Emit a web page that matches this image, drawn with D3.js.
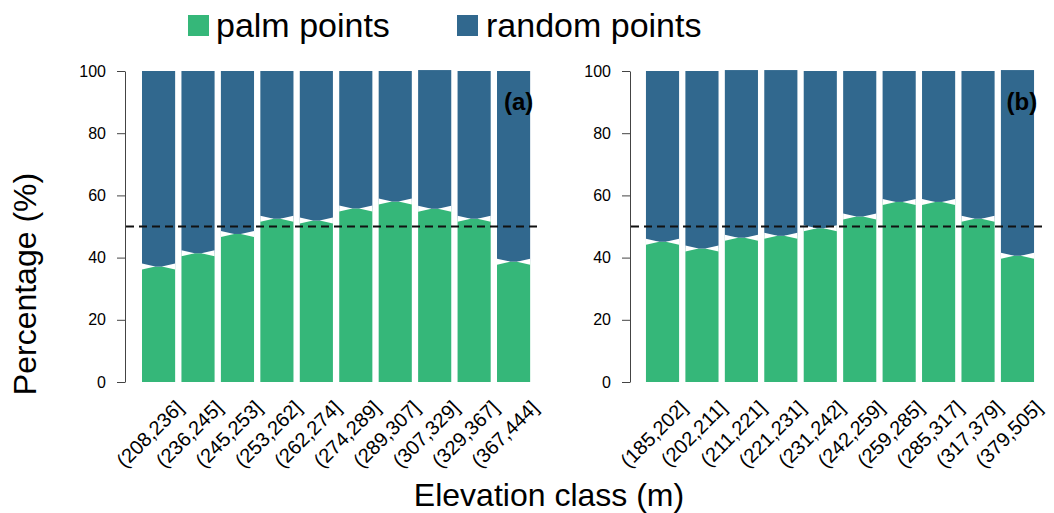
<!DOCTYPE html>
<html><head><meta charset="utf-8">
<script src="https://cdn.jsdelivr.net/npm/d3@7/dist/d3.min.js"></script>
<style>body{margin:0;background:#fff;} text{font-family:"Liberation Sans",Arial,sans-serif;}</style>
</head><body>
<svg id="c" width="1054" height="513"></svg>
<script>
// ---- data ----
const classesA = ["(208,236]","(236,245]","(245,253]","(253,262]","(262,274]","(274,289]","(289,307]","(307,329]","(329,367]","(367,444]"];
const palmA   = [37.1, 41.4, 47.6, 52.5, 51.9, 55.8, 58.0, 55.7, 52.5, 38.7];
const randomA = [62.9, 58.6, 52.4, 47.5, 48.1, 44.2, 42.0, 44.6, 47.5, 61.3];
const classesB = ["(185,202]","(202,211]","(211,221]","(221,231]","(231,242]","(242,259]","(259,285]","(285,317]","(317,379]","(379,505]"];
const palmB   = [45.1, 42.9, 46.4, 47.0, 49.4, 53.2, 57.9, 57.9, 52.5, 40.6];
const randomB = [54.9, 57.1, 53.9, 53.3, 50.6, 46.8, 42.1, 42.1, 47.5, 59.7];
const yTicks = [0, 20, 40, 60, 80, 100];
const seriesNames = ["palm points", "random points"];
const colors = ["#35b779", "#31688e"];
const refLine = 50;

const svg = d3.select("#c");
const y = d3.scaleLinear().domain([0, 100]).range([382, 71]);

function panel(classes, palm, rnd, axisX, r0, r1, tag) {
  const x = d3.scaleBand().domain(classes).range([r0, r1]).paddingInner(0.16).paddingOuter(0.08);
  const g = svg.append("g");
  const bw = x.bandwidth();
  classes.forEach((c, i) => {
    const x0 = x(c);
    g.append("rect").attr("x", x0).attr("width", bw)
      .attr("y", y(palm[i])).attr("height", y(0) - y(palm[i])).attr("fill", colors[0]);
    g.append("rect").attr("x", x0).attr("width", bw)
      .attr("y", y(palm[i] + rnd[i])).attr("height", y(palm[i]) - y(palm[i] + rnd[i])).attr("fill", colors[1]);
    const yb = y(palm[i]);
    const tw = bw * 0.4;
    g.append("path").attr("fill", "#fff")
      .attr("d", `M${x0},${yb-3}L${x0+tw},${yb}L${x0},${yb+3}Z M${x0+bw},${yb-3}L${x0+bw-tw},${yb}L${x0+bw},${yb+3}Z`);
    g.append("text").attr("transform", `translate(${x0 + bw/2 + 26},${409}) rotate(-45)`)
      .attr("text-anchor", "end").attr("font-size", 20).attr("fill", "#000").text(c);
  });
  // axis
  const ax = svg.append("g").attr("transform", `translate(${axisX},0)`)
    .call(d3.axisLeft(y).tickValues(yTicks).tickSize(8).tickSizeOuter(0).tickPadding(11));
  ax.select(".domain").attr("stroke", "#444");
  ax.selectAll(".tick line").attr("stroke", "#444");
  ax.selectAll(".tick text").attr("font-size", 16).attr("font-family", "Liberation Sans, Arial, sans-serif").attr("fill", "#000");
  // dashed line
  svg.append("line").attr("x1", axisX + 1).attr("x2", r1 + 7).attr("y1", y(refLine)).attr("y2", y(refLine))
    .attr("stroke", "#111").attr("stroke-width", 1.8).attr("stroke-dasharray", "8,5");
  svg.append("text").attr("x", r1).attr("y", 110).attr("text-anchor", "end")
    .attr("font-size", 24).attr("font-weight", "bold").text(tag);
}
panel(classesA, palmA, randomA, 125, 138.85, 533.3, "(a)");
panel(classesB, palmB, randomB, 630, 642.8, 1037.2, "(b)");

// axis titles
svg.append("text").attr("x", 549).attr("y", 506).attr("text-anchor", "middle").attr("font-size", 32).text("Elevation class (m)");
svg.append("text").attr("transform", "translate(36,284) rotate(-90)").attr("text-anchor", "middle").attr("font-size", 32).text("Percentage (%)");

// legend
const leg = [{x: 188, tx: 216}, {x: 457, tx: 486}];
seriesNames.forEach((n, i) => {
  svg.append("rect").attr("x", leg[i].x).attr("y", 15).attr("width", 21).attr("height", 21).attr("fill", colors[i]);
  svg.append("text").attr("x", leg[i].tx).attr("y", 37).attr("font-size", 34).text(n);
});
</script>
</body></html>
